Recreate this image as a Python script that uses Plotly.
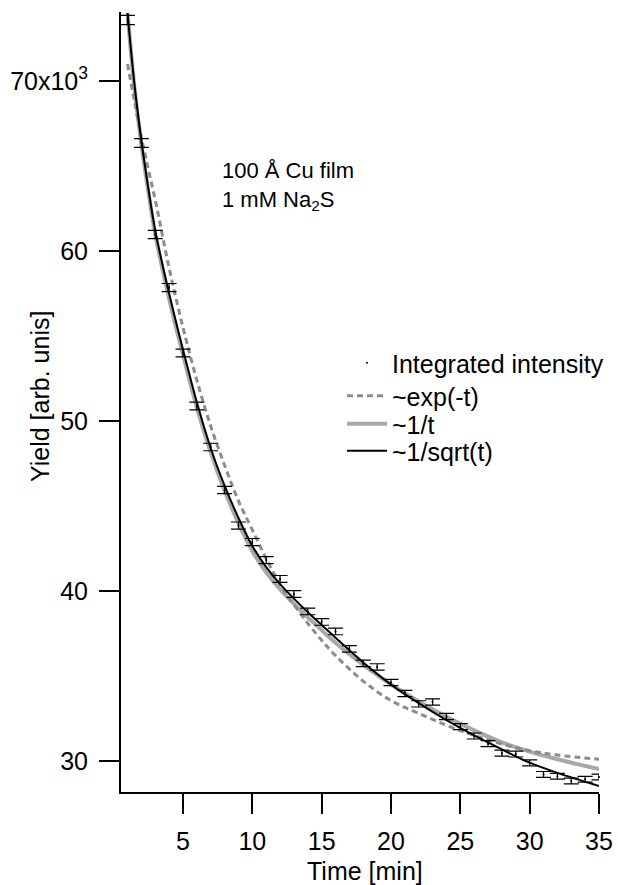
import plotly.graph_objects as go

# ---------------- data ----------------
time_min = list(range(1, 36))
yield_vals = [73590, 66350, 60970, 57850, 54000, 50880, 48470, 45940, 43850, 42880,
              41820, 40710, 39820, 38800, 38180, 37620, 36590, 35740, 35530, 34620,
              33970, 33360, 33470, 32620, 32020, 31470, 31020, 30460, 30410, 29890,
              29210, 29100, 28820, 28930, 29060]
yield_err = [270, 258, 247, 240, 232, 226, 220, 214, 209, 207,
             204, 202, 200, 197, 195, 194, 191, 189, 189, 186,
             184, 183, 183, 181, 179, 177, 176, 175, 174, 173,
             171, 171, 170, 170, 170]

fit_t = [1, 1.5, 2, 2.5, 3, 4, 5, 6, 7, 8, 9, 10, 11, 12, 13, 14, 15, 16,
         18, 20, 22, 24, 26, 28, 30, 32, 35]
exp_fit = [71000, 68800, 66700, 64800, 63000, 59000, 55500, 52400, 49700, 47400,
           45300, 43600, 41900, 40400, 39200, 38100, 37100, 36200,
           34700, 33550, 32800, 32100, 31500, 31000, 30600, 30350, 30100]
inv_fit = [74000, 69600, 66300, 63500, 61000, 57200, 53900, 50800, 48150, 45900,
           44000, 42350, 41100, 40100, 39250, 38450, 37700, 36950,
           35650, 34500, 33500, 32600, 31800, 31100, 30550, 30100, 29520]
sqrt_fit = [74000, 69800, 66500, 63700, 61200, 57500, 54200, 51100, 48400, 46200,
            44300, 42650, 41400, 40400, 39550, 38750, 38000, 37250,
            35800, 34500, 33400, 32400, 31500, 30680, 29900, 29300, 28530]

x_ticks = [5, 10, 15, 20, 25, 30, 35]
y_ticks = [30000, 40000, 50000, 60000, 70000]
y_ticktext = ["30", "40", "50", "60", "70x10<sup>3</sup>"]

FONT = "Liberation Sans, Arial, Helvetica, sans-serif"

fig = go.Figure()
fig.add_trace(go.Scatter(x=fit_t, y=inv_fit, mode="lines", name="~1/t",
                         line=dict(color="#a8a8a8", width=4, shape="spline"),
                         legend="legend3"))
fig.add_trace(go.Scatter(x=fit_t, y=exp_fit, mode="lines", name="~exp(-t)",
                         line=dict(color="#8c8c8c", width=3, dash="6px,4px", shape="spline"),
                         legend="legend2"))
fig.add_trace(go.Scatter(x=fit_t, y=sqrt_fit, mode="lines", name="~1/sqrt(t)",
                         line=dict(color="black", width=2, shape="spline"),
                         legend="legend4"))
fig.add_trace(go.Scatter(x=time_min, y=yield_vals, mode="markers", name="Integrated intensity",
                         marker=dict(color="black", size=2),
                         error_y=dict(type="data", array=yield_err, color="black",
                                      thickness=1.2, width=7.5),
                         cliponaxis=False, legend="legend"))

L, R, T, B = 121, 19, 12, 93
W, H = 618, 885
pw, ph = W - L - R, H - T - B


def px_x(p):
    return (p - L) / pw


def px_y(p):
    return (H - B - p) / ph


leg_common = dict(xanchor="left", yanchor="middle", bgcolor="rgba(0,0,0,0)",
                  borderwidth=0, itemwidth=40,
                  font=dict(family=FONT, size=25, color="black"))
fig.update_layout(
    width=W, height=H,
    margin=dict(l=L, r=R, t=T, b=B, autoexpand=False),
    paper_bgcolor="white", plot_bgcolor="white",
    font=dict(family=FONT, size=25, color="black"),
    showlegend=True,
    legend=dict(x=px_x(342), y=px_y(363), **leg_common),
    legend2=dict(x=px_x(342), y=px_y(396), **leg_common),
    legend3=dict(x=px_x(342), y=px_y(424), **leg_common),
    legend4=dict(x=px_x(342), y=px_y(451), **leg_common),
    xaxis=dict(range=[0.53, 35], tickvals=x_ticks, ticks="outside", ticklen=20,
               tickwidth=2, tickcolor="black", showline=True, linecolor="black",
               linewidth=2, showgrid=False, zeroline=False, ticklabelstandoff=6,
               tickfont=dict(family=FONT, size=25, color="black")),
    yaxis=dict(range=[28176, 74060], tickvals=y_ticks, ticktext=y_ticktext,
               ticks="outside", ticklen=20, tickwidth=2, tickcolor="black",
               showline=True, linecolor="black", linewidth=2, showgrid=False,
               zeroline=False, ticklabelstandoff=6,
               tickfont=dict(family=FONT, size=25, color="black")),
    annotations=[
        dict(text="100 Å Cu film<br>1 mM Na<sub>2</sub>S", xref="paper", yref="paper",
             x=px_x(220), y=px_y(156), xanchor="left", yanchor="top", align="left",
             showarrow=False, font=dict(family=FONT, size=22, color="black")),
        dict(text="Time [min]", xref="paper", yref="paper", x=px_x(365), y=px_y(871),
             xanchor="center", yanchor="middle", showarrow=False,
             font=dict(family=FONT, size=25, color="black")),
        dict(text="Yield [arb. unis]", xref="paper", yref="paper", x=px_x(40), y=px_y(397),
             xanchor="center", yanchor="middle", textangle=-90, showarrow=False,
             font=dict(family=FONT, size=25, color="black")),
    ],
)

fig.write_html("out.html")
